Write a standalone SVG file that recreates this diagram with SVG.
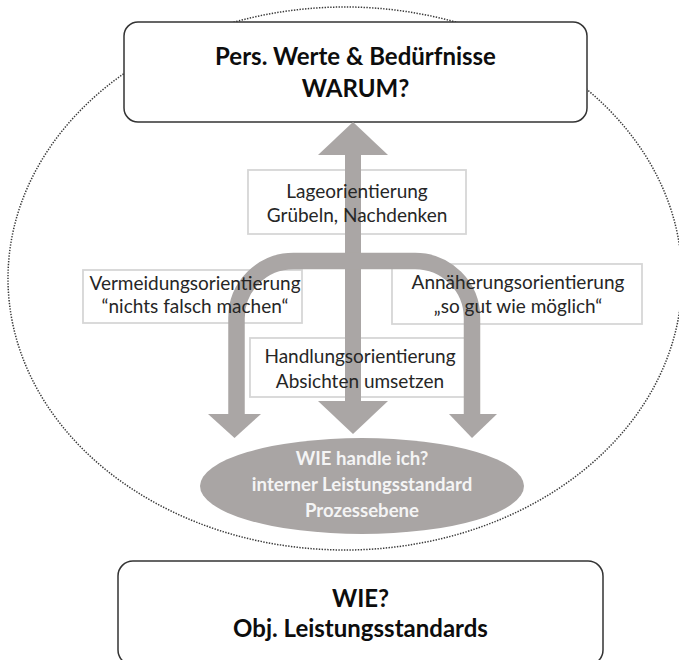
<svg xmlns="http://www.w3.org/2000/svg" width="679" height="660" viewBox="0 0 679 660">
<style>
.bigbox{fill:#fff;stroke:#333;stroke-width:1.5}
.tbox{fill:none;stroke:#d6d6d6;stroke-width:1.8}
.big{font-family:Lato,"Liberation Sans",sans-serif;font-weight:bold;font-size:24px;fill:#0d0d0d;text-anchor:middle}
.lbl{font-family:Lato,"Liberation Sans",sans-serif;font-size:19px;fill:#262626;text-anchor:middle}
.wl{font-family:Lato,"Liberation Sans",sans-serif;font-weight:bold;font-size:18.6px;fill:#f4f4f4;text-anchor:middle}
.arr{fill:#aaa6a5}
</style>
<rect width="679" height="660" fill="#fff"/>
<ellipse id="outer" cx="345" cy="278.5" rx="337" ry="271.5" fill="none" stroke="#3a3a3a" stroke-width="1.5" stroke-dasharray="1.4 1.4"/>
<g id="warum">
<rect class="bigbox" x="124" y="22" width="463" height="100" rx="14"/>
<text class="big" x="355.5" y="65">Pers. Werte &amp; Bedürfnisse</text>
<text class="big" x="355.5" y="97">WARUM?</text>
</g>
<g id="boxes">
<rect class="tbox" x="248" y="170" width="218" height="64"/>
<rect class="tbox" x="83" y="270" width="219" height="53"/>
<rect class="tbox" x="392" y="264" width="250" height="60"/>
<rect class="tbox" x="250" y="338" width="215" height="59"/>
</g>
<g id="connectors">
<rect class="arr" x="345" y="154" width="16" height="248"/>
<polygon class="arr" points="318,155 388,155 353,122"/>
<polygon class="arr" points="318,401 388,401 353,434"/>
<path d="M236.5,414 V318 A57,57 0 0 1 293.5,261 H415 A57,57 0 0 1 472,318 V414" fill="none" stroke="#aaa6a5" stroke-width="16.5"/>
<polygon class="arr" points="208,414 261,414 234.5,438"/>
<polygon class="arr" points="449,414 497,414 472,438"/>
</g>
<g id="lage">
<text class="lbl" x="357" y="198">Lageorientierung</text>
<text class="lbl" x="357" y="222">Grübeln, Nachdenken</text>
</g>
<g id="vermeidung">
<text class="lbl" x="195" y="290">Vermeidungsorientierung</text>
<text class="lbl" x="195" y="313">“nichts falsch machen“</text>
</g>
<g id="annaeherung">
<text class="lbl" x="518" y="289">Annäherungsorientierung</text>
<text class="lbl" x="518" y="313">„so gut wie möglich“</text>
</g>
<g id="handlung">
<text class="lbl" x="360" y="363">Handlungsorientierung</text>
<text class="lbl" x="360" y="388">Absichten umsetzen</text>
</g>
<g id="wie-ellipse">
<ellipse cx="362" cy="486" rx="162" ry="48" fill="#a9a5a4"/>
<text class="wl" x="362" y="465">WIE handle ich?</text>
<text class="wl" x="362" y="491">interner Leistungsstandard</text>
<text class="wl" x="362" y="517">Prozessebene</text>
</g>
<g id="wie">
<rect class="bigbox" x="118" y="561" width="485" height="104" rx="15"/>
<text class="big" x="360.5" y="607">WIE?</text>
<text class="big" x="360.5" y="637">Obj. Leistungsstandards</text>
</g>
</svg>
